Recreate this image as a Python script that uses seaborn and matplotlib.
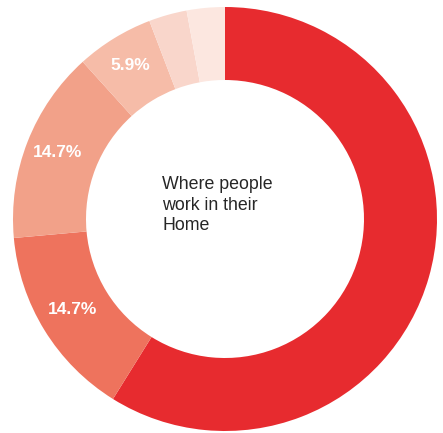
import numpy as np
import matplotlib
matplotlib.use("Agg")
import matplotlib.pyplot as plt
import seaborn as sns

# Share of workers by place of work (percent)
categories = ["Main", "Group B", "Group C", "Group D", "Group E", "Group F"]
shares = [58.8, 14.7, 14.7, 5.9, 2.9, 2.9]
labelled = [False, True, True, True, False, False]
colors = ["#E72B2F", "#EE735D", "#F2A189", "#F6BCA8", "#F9D6CB", "#FCE7E0"]
center_title = "Where people\nwork in their\nHome"

sns.set_theme(style="white")
plt.rcParams["font.family"] = ["Liberation Sans", "DejaVu Sans"]

W, H = 443, 433
fig = plt.figure(figsize=(W / 100, H / 100), dpi=100)
cx, cy, R = 225, 219, 212
ax = fig.add_axes([(cx - R) / W, (H - cy - R) / H, 2 * R / W, 2 * R / H])

ring = 73 / 212
wedges, _ = ax.pie(
    shares,
    colors=colors,
    startangle=90,
    counterclock=False,
    radius=1.0,
    wedgeprops=dict(width=ring, linewidth=0, antialiased=True),
    normalize=True,
)
ax.set_xlim(-1, 1)
ax.set_ylim(-1, 1)
ax.axis("off")

# value labels in the middle of the ring
r_lab = 0.835
for w, val, show in zip(wedges, shares, labelled):
    if not show:
        continue
    ang = np.deg2rad((w.theta1 + w.theta2) / 2)
    ax.text(r_lab * np.cos(ang) - 0.01, r_lab * np.sin(ang) + 0.01, f"{val}%",
            ha="center", va="center", color="white",
            fontsize=12.5, fontweight="bold")

ax.text(-0.297, 0.066, center_title, ha="left", va="center",
        fontsize=12.8, color="#262626", linespacing=1.3)

fig.savefig("out.png", dpi=100, facecolor="white")
